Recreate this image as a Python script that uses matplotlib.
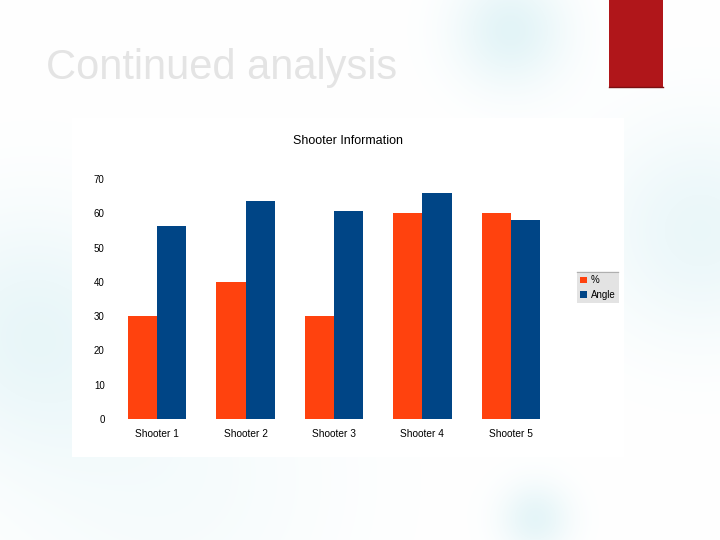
import numpy as np
import matplotlib.pyplot as plt
from matplotlib.patches import Rectangle
from matplotlib.lines import Line2D

plt.rcParams['font.family'] = ['Liberation Sans', 'DejaVu Sans']

# data
shooters = ["Shooter 1", "Shooter 2", "Shooter 3", "Shooter 4", "Shooter 5"]
pct = [30, 40, 30, 60, 60]
angle = [56.4, 63.7, 60.8, 65.8, 57.9]
yticks = [0, 10, 20, 30, 40, 50, 60, 70]

W, H = 720, 540
fig = plt.figure(figsize=(7.2, 5.4), dpi=100)

# slide background with faint blurred blobs
bg = fig.add_axes([0, 0, 1, 1])
yy, xx = np.mgrid[0:H, 0:W]
blobs = [(510, 30, 40, 0.11), (700, 230, 75, 0.08), (30, 330, 85, 0.08),
         (170, 480, 120, 0.035), (535, 518, 25, 0.10)]
shade = np.zeros((H, W))
for cx, cy, r, a in blobs:
    shade += a * np.exp(-((xx - cx) ** 2 + (yy - cy) ** 2) / (2 * r ** 2))
tint = np.array([0.82, 0.93, 0.95])
img = np.clip(1 - shade[..., None] * (1 - tint) * 5.5, 0, 1)
bg.imshow(img, extent=[0, W, H, 0], aspect='auto')
bg.set_xlim(0, W)
bg.set_ylim(H, 0)
bg.axis('off')

# white chart panel
bg.add_patch(Rectangle((72, 118), 552, 339, facecolor='white', edgecolor='none'))
# red accent block
bg.add_patch(Rectangle((609, 0), 54, 87, facecolor='#B0161A', edgecolor='none'))
bg.plot([609, 663], [87, 87], color='#7a1012', lw=1)

fig.text(46 / W, 1 - 68 / H, "Continued analysis", fontsize=30, color='#e4e4e4',
         ha='left', va='center')

# bar chart
ax = fig.add_axes([113 / W, 1 - 419 / H, 442 / W, 240 / H])
x = np.arange(len(shooters))
bw = 0.33
ax.bar(x - bw / 2, pct, bw, color='#FF420E', label='%')
ax.bar(x + bw / 2, angle, bw, color='#004586', label='Angle')
ax.set_xlim(-0.5, len(shooters) - 0.5)
ax.set_ylim(0, 70)
ax.set_xticks(x, shooters, fontsize=7.3)
ax.set_yticks(yticks, [str(v) for v in yticks], fontsize=7)
ax.tick_params(length=0)
ax.tick_params(axis='y', pad=6)
ax.tick_params(axis='x', pad=7)
for s in ax.spines.values():
    s.set_visible(False)
ax.patch.set_alpha(0)

fig.text(348 / W, 1 - 141 / H, "Shooter Information", fontsize=9, ha='center', va='center')

leg = fig.legend(loc='upper left', bbox_to_anchor=(577 / W, 1 - 272 / H), fontsize=7,
                 frameon=True, fancybox=False, handlelength=0.7, handleheight=0.7,
                 handletextpad=0.4, borderpad=0.35, labelspacing=0.45, borderaxespad=0)
leg.get_frame().set_facecolor('#dcdcdc')
leg.get_frame().set_edgecolor('none')
fig.add_artist(Line2D([577 / W, 618 / W], [1 - 272 / H, 1 - 272 / H], color='black', lw=0.8))

fig.savefig('out.png', dpi=100)
